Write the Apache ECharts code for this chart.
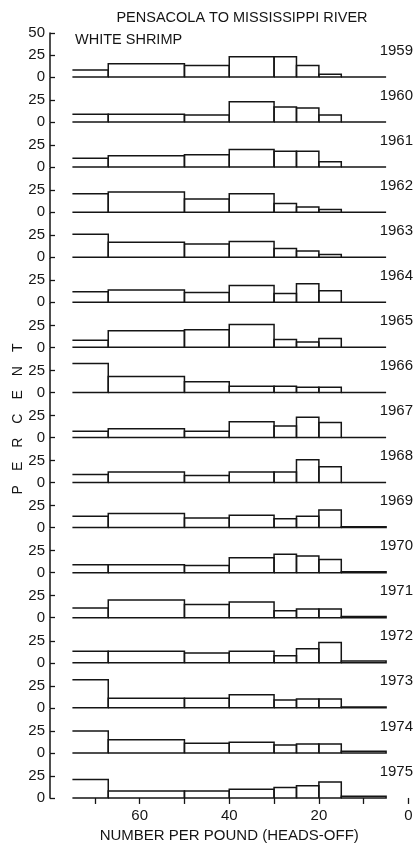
<!DOCTYPE html>
<html>
<head>
<meta charset="utf-8">
<script src="https://cdn.jsdelivr.net/npm/echarts@6/dist/echarts.min.js"></script>
<style>
html,body{margin:0;padding:0;background:#fff;}
#chart{width:417px;height:846px;}
</style>
</head>
<body>
<div id="chart"></div>
<script>
// Bin edges (number per pound, heads-off)
const binEdges = [75, 67, 50, 40, 30, 25, 20, 15, 5];
const years = ['1959','1960','1961','1962','1963','1964','1965','1966','1967','1968','1969','1970','1971','1972','1973','1974','1975'];
const yTickLabels = [0, 25, 50];
const xTickLabels = [0, 20, 40, 60];
const xTickMarks = [0, 10, 20, 30, 40, 50, 60, 70];

// Percent in each bin (from >67 down to <15 per pound)
const pct1959 = [8, 15, 13, 23, 23, 13, 3, 0];
const pct1960 = [9, 9, 8, 23, 17, 16, 8, 0];
const pct1961 = [10, 13, 14, 20, 18, 18, 6, 0];
const pct1962 = [21, 23, 15, 21, 10, 6, 3, 0];
const pct1963 = [26, 17, 15, 18, 10, 7, 3, 0];
const pct1964 = [12, 14, 11, 19, 10, 21, 13, 0];
const pct1965 = [8, 19, 20, 26, 9, 6, 10, 0];
const pct1966 = [33, 18, 12, 7, 7, 6, 6, 0];
const pct1967 = [7, 10, 7, 18, 13, 23, 17, 0];
const pct1968 = [9, 12, 8, 12, 12, 26, 18, 0];
const pct1969 = [13, 16, 11, 14, 10, 13, 20, 1];
const pct1970 = [9, 9, 8, 17, 21, 19, 15, 1];
const pct1971 = [11, 20, 15, 18, 8, 10, 10, 1.5];
const pct1972 = [13, 13, 11, 13, 8, 16, 23, 2];
const pct1973 = [32, 11, 11, 15, 9, 10, 10, 1];
const pct1974 = [25, 15, 11, 12, 9, 10, 10, 2];
const pct1975 = [21, 8, 8, 10, 12, 14, 18, 2];

const allPct = [pct1959, pct1960, pct1961, pct1962, pct1963, pct1964, pct1965, pct1966,
  pct1967, pct1968, pct1969, pct1970, pct1971, pct1972, pct1973, pct1974, pct1975];

const INK = '#151515';
const FONT = '"Liberation Sans", Arial, sans-serif';
const GRID_LEFT = 50, GRID_W = 358.5;
const ZERO0 = 77, STEP = 45.06, PANEL_H = 44;

function renderBin(params, api) {
  const hi = api.value(0), lo = api.value(1), v = api.value(2), idx = api.value(3);
  const bl = api.coord([hi, 0]), br = api.coord([lo, 0]);
  const tr = api.coord([lo, v]), tl = api.coord([hi, v]);
  const pts = idx === 0 ? [tl, tr, br, bl] : [bl, br, tr, tl, bl];
  return {
    type: 'polyline',
    shape: { points: pts },
    style: { stroke: INK, lineWidth: 1.5, fill: null, lineJoin: 'miter' }
  };
}

const grids = [], xAxes = [], yAxes = [], series = [], titles = [];
allPct.forEach((vals, i) => {
  const zero = ZERO0 + STEP * i;
  const last = i === allPct.length - 1;
  grids.push({ left: GRID_LEFT, width: GRID_W, top: zero - PANEL_H, height: PANEL_H });
  xAxes.push({
    gridIndex: i, type: 'value', min: 0, max: 80, inverse: true,
    show: last,
    axisLine: { show: false, onZero: false },
    splitLine: { show: false },
    axisTick: { show: last, customValues: xTickMarks, length: 6, lineStyle: { color: INK, width: 1.3 } },
    axisLabel: { show: last, customValues: xTickLabels, margin: 10, color: INK, fontFamily: FONT, fontSize: 15 },
    name: last ? 'NUMBER PER POUND (HEADS-OFF)' : '',
    nameLocation: 'middle', nameGap: 30,
    nameTextStyle: { color: INK, fontFamily: FONT, fontSize: 15 }
  });
  yAxes.push({
    gridIndex: i, type: 'value', min: 0, max: 50, position: 'left',
    splitLine: { show: false },
    axisLine: { show: true, onZero: false, lineStyle: { color: INK, width: 1.5 } },
    axisTick: { show: true, inside: true, length: 5, customValues: i === 0 ? yTickLabels : [0, 25], lineStyle: { color: INK, width: 1.3 } },
    axisLabel: { customValues: i === 0 ? yTickLabels : [0, 25], margin: 5, color: INK, fontFamily: FONT, fontSize: 15 }
  });
  series.push({
    type: 'custom', xAxisIndex: i, yAxisIndex: i,
    renderItem: renderBin,
    encode: { x: [0, 1], y: 2 },
    data: vals.map((v, k) => [binEdges[k], binEdges[k + 1], v, k]),
    silent: true
  });
  titles.push({
    text: years[i], right: 4, top: zero - 34, padding: 0,
    textStyle: { color: INK, fontFamily: FONT, fontSize: 15, fontWeight: 'normal' }
  });
});

titles.push({
  text: 'PENSACOLA TO MISSISSIPPI RIVER', left: 242, top: 10, padding: 0, textAlign: 'center',
  textStyle: { color: INK, fontFamily: FONT, fontSize: 14.5, fontWeight: 'normal' }
});
titles.push({
  text: 'WHITE SHRIMP', left: 75, top: 32, padding: 0,
  textStyle: { color: INK, fontFamily: FONT, fontSize: 14.5, fontWeight: 'normal' }
});

const chart = echarts.init(document.getElementById('chart'), null, { renderer: 'canvas' });
chart.setOption({
  backgroundColor: '#fff',
  animation: false,
  title: titles,
  grid: grids,
  xAxis: xAxes,
  yAxis: yAxes,
  series: series,
  graphic: [{
    type: 'text', x: 18.5, y: 419, rotation: Math.PI / 2,
    style: {
      text: 'P\u2002\u2002E\u2002\u2002R\u2002\u2002C\u2002\u2002E\u2002\u2002N\u2002\u2002T',
      fill: INK, font: '14px ' + FONT, align: 'center', verticalAlign: 'middle'
    }
  }]
});
</script>
</body>
</html>
